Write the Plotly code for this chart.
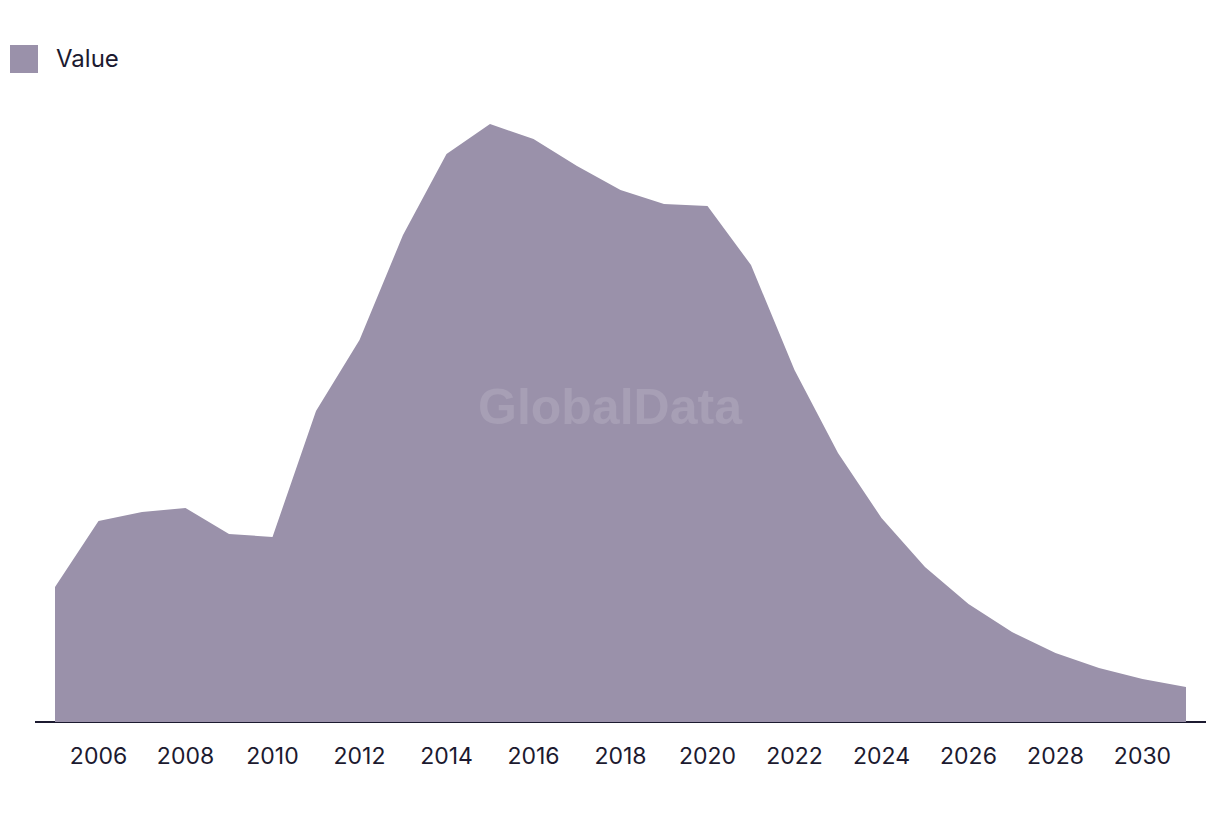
import plotly.graph_objects as go

years = list(range(2005, 2032))
values = [135, 201, 210, 214, 188, 185, 311, 382, 487, 568, 598, 583, 556, 532,
          518, 516, 457, 352, 269, 204, 155, 118, 90, 69, 54, 43, 35]
tick_vals = list(range(2006, 2031, 2))
tick_text = [str(y) for y in tick_vals]

fill_color = "#9a91aa"
text_color = "#1c1a30"

fig = go.Figure()
fig.add_trace(go.Scatter(
    x=years, y=values, mode="lines", fill="tozeroy",
    fillcolor=fill_color, line=dict(color=fill_color, width=0),
    name="Value", showlegend=False, hoverinfo="x+y",
))

fig.update_layout(
    width=1220, height=814,
    margin=dict(l=35, r=14, t=100, b=92),
    paper_bgcolor="white", plot_bgcolor="white",
    font=dict(family="Inter, Liberation Sans, sans-serif", color=text_color),
    xaxis=dict(range=[2004.54, 2031.46], tickvals=tick_vals, ticktext=tick_text,
               showgrid=False, zeroline=False, showline=False, ticks="",
               ticklabelstandoff=18,
               tickfont=dict(size=23, color=text_color)),
    yaxis=dict(range=[0, 622], showgrid=False, zeroline=True, zerolinecolor=text_color,
               zerolinewidth=2, showticklabels=False, showline=False, ticks=""),
    shapes=[dict(type="rect", xref="paper", yref="paper",
                 x0=(10-35)/1171, x1=(38-35)/1171,
                 y0=(722-73)/622, y1=(722-45)/622,
                 fillcolor=fill_color, line=dict(width=0))],
    annotations=[
        dict(text="Value", xref="paper", yref="paper",
             x=(54-35)/1171, y=(722-58)/622, xanchor="left", yanchor="middle",
             showarrow=False, font=dict(size=24, color=text_color)),
        dict(text="<b>GlobalData</b>", xref="paper", yref="paper",
             x=(610-35)/1171, y=(722-407)/622, xanchor="center", yanchor="middle",
             showarrow=False, font=dict(size=50, color="#a79fb5",
                                        family="Liberation Sans, Arial, sans-serif")),
    ],
)

fig.write_html("out.html")
